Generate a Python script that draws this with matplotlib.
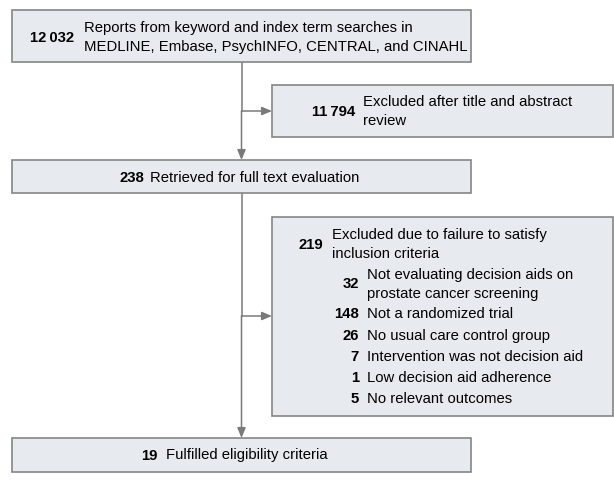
import matplotlib.pyplot as plt
from matplotlib.patches import Rectangle

plt.rcParams['font.family'] = ['Liberation Sans', 'DejaVu Sans']

# counts and labels of the flow diagram
main_counts = ['12\u2009032', '238', '19']
main_labels = ['Reports from keyword and index term searches in\nMEDLINE, Embase, PsychINFO, CENTRAL, and CINAHL',
               'Retrieved for full text evaluation',
               'Fulfilled eligibility criteria']
excl_counts = ['11\u2009794', '219']
excl_labels = ['Excluded after title and abstract\nreview',
               'Excluded due to failure to satisfy\ninclusion criteria']
sub_counts = ['32', '148', '26', '7', '1', '5']
sub_labels = ['Not evaluating decision aids on\nprostate cancer screening',
              'Not a randomized trial',
              'No usual care control group',
              'Intervention was not decision aid',
              'Low decision aid adherence',
              'No relevant outcomes']

fill = '#e7ebf0'
edge = '#858585'
line_c = '#7a7a7a'
fs = 10.7

fig = plt.figure(figsize=(6.14, 4.91), dpi=100)
ax = fig.add_axes([0, 0, 1, 1])
ax.set_xlim(0, 614)
ax.set_ylim(491, 0)
ax.axis('off')

def box(x0, y0, x1, y1):
    ax.add_patch(Rectangle((x0, y0), x1 - x0, y1 - y0, facecolor=fill,
                           edgecolor=edge, lw=1.2, zorder=2))

def entry(xn, xt, y, n, lab):
    ax.text(xn, y, n, ha='right', va='center', fontsize=fs, fontweight='bold', zorder=3)
    ax.text(xt, y, lab, ha='left', va='center', fontsize=fs, linespacing=1.38, zorder=3)

# main boxes
box(12, 10, 471, 62)
entry(74, 84, 37.5, main_counts[0], main_labels[0])
box(12, 160, 471, 193)
entry(144, 150, 177.5, main_counts[1], main_labels[1])
box(12, 438, 471, 472)
entry(157, 166, 455.5, main_counts[2], main_labels[2])

# exclusion boxes
box(272, 85, 613, 137)
entry(355, 363, 111.5, excl_counts[0], excl_labels[0])
box(272, 217, 613, 416)
entry(323, 332, 244.5, excl_counts[1], excl_labels[1])
sub_y = [284.5, 314.5, 336, 357, 378, 399]
for y, n, lab in zip(sub_y, sub_counts, sub_labels):
    entry(359, 367, y, n, lab)

# connectors
xc = 241.5
arr = dict(arrowstyle='-|>,head_length=0.6,head_width=0.25', color=line_c, lw=1.1,
           shrinkA=0, shrinkB=0)
ax.plot([xc, xc], [62, 111], color=line_c, lw=1.1, zorder=1)
ax.annotate('', xy=(xc, 160), xytext=(xc, 111), arrowprops=arr)
ax.annotate('', xy=(272, 111), xytext=(xc, 111), arrowprops=arr)
ax.plot([xc, xc], [193, 316], color=line_c, lw=1.1, zorder=1)
ax.annotate('', xy=(xc, 438), xytext=(xc, 316), arrowprops=arr)
ax.annotate('', xy=(272, 316), xytext=(xc, 316), arrowprops=arr)

fig.savefig('out.png', dpi=100)
